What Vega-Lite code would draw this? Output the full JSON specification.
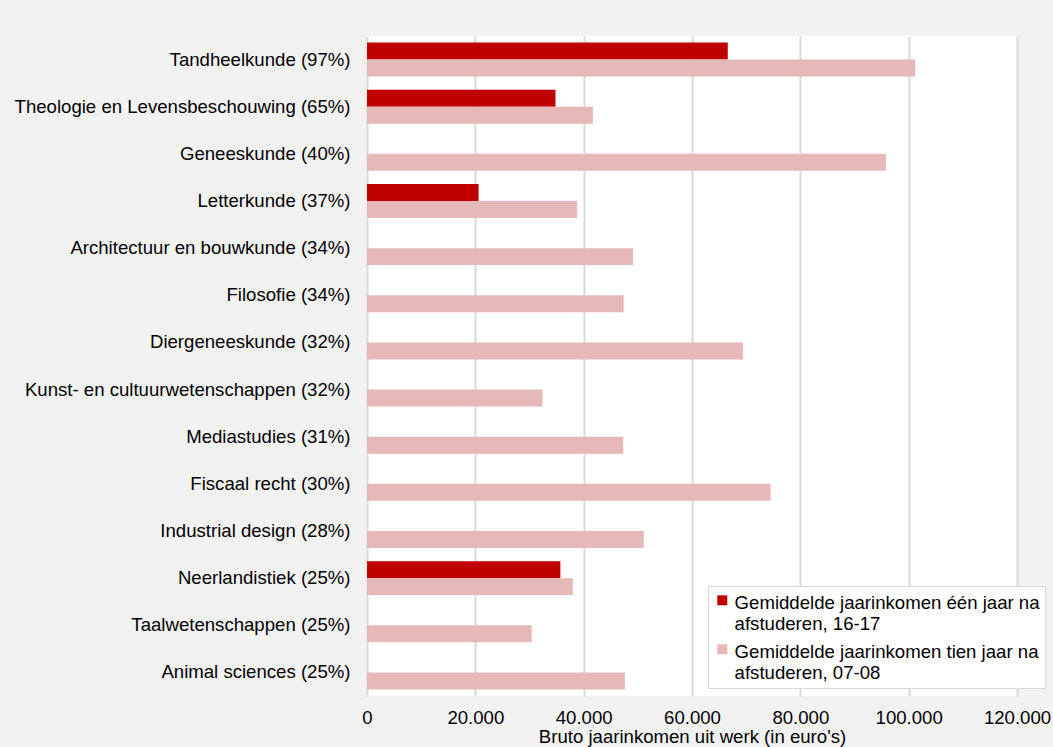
{
  "$schema": "https://vega.github.io/schema/vega-lite/v6.json",
  "autosize": "none",
  "width": 650,
  "height": 660,
  "padding": {"left": 367, "top": 36, "right": 36, "bottom": 51},
  "background": "#f2f2f2",
  "config": {
    "view": {"fill": "white", "stroke": null},
    "font": "Liberation Sans",
    "axis": {"labelFont": "Liberation Sans", "titleFont": "Liberation Sans", "labelColor": "#000000", "titleColor": "#000000"},
    "legend": {"labelFont": "Liberation Sans"}
  },
  "data": {
    "values": [
      {"vak": "Tandheelkunde (97%)", "serie": "Gemiddelde jaarinkomen één jaar na|afstuderen, 16-17", "waarde": 66600},
      {"vak": "Tandheelkunde (97%)", "serie": "Gemiddelde jaarinkomen tien jaar na|afstuderen, 07-08", "waarde": 101200},
      {"vak": "Theologie en Levensbeschouwing (65%)", "serie": "Gemiddelde jaarinkomen één jaar na|afstuderen, 16-17", "waarde": 34800},
      {"vak": "Theologie en Levensbeschouwing (65%)", "serie": "Gemiddelde jaarinkomen tien jaar na|afstuderen, 07-08", "waarde": 41700},
      {"vak": "Geneeskunde (40%)", "serie": "Gemiddelde jaarinkomen tien jaar na|afstuderen, 07-08", "waarde": 95800},
      {"vak": "Letterkunde (37%)", "serie": "Gemiddelde jaarinkomen één jaar na|afstuderen, 16-17", "waarde": 20600},
      {"vak": "Letterkunde (37%)", "serie": "Gemiddelde jaarinkomen tien jaar na|afstuderen, 07-08", "waarde": 38800},
      {"vak": "Architectuur en bouwkunde (34%)", "serie": "Gemiddelde jaarinkomen tien jaar na|afstuderen, 07-08", "waarde": 49100},
      {"vak": "Filosofie (34%)", "serie": "Gemiddelde jaarinkomen tien jaar na|afstuderen, 07-08", "waarde": 47400},
      {"vak": "Diergeneeskunde (32%)", "serie": "Gemiddelde jaarinkomen tien jaar na|afstuderen, 07-08", "waarde": 69400},
      {"vak": "Kunst- en cultuurwetenschappen (32%)", "serie": "Gemiddelde jaarinkomen tien jaar na|afstuderen, 07-08", "waarde": 32400},
      {"vak": "Mediastudies (31%)", "serie": "Gemiddelde jaarinkomen tien jaar na|afstuderen, 07-08", "waarde": 47300},
      {"vak": "Fiscaal recht (30%)", "serie": "Gemiddelde jaarinkomen tien jaar na|afstuderen, 07-08", "waarde": 74500},
      {"vak": "Industrial design (28%)", "serie": "Gemiddelde jaarinkomen tien jaar na|afstuderen, 07-08", "waarde": 51100},
      {"vak": "Neerlandistiek (25%)", "serie": "Gemiddelde jaarinkomen één jaar na|afstuderen, 16-17", "waarde": 35700},
      {"vak": "Neerlandistiek (25%)", "serie": "Gemiddelde jaarinkomen tien jaar na|afstuderen, 07-08", "waarde": 38000},
      {"vak": "Taalwetenschappen (25%)", "serie": "Gemiddelde jaarinkomen tien jaar na|afstuderen, 07-08", "waarde": 30400},
      {"vak": "Animal sciences (25%)", "serie": "Gemiddelde jaarinkomen tien jaar na|afstuderen, 07-08", "waarde": 47600}
    ]
  },
  "mark": {"type": "bar"},
  "encoding": {
    "y": {
      "field": "vak",
      "type": "nominal",
      "sort": null,
      "scale": {"paddingInner": 0.28, "paddingOuter": 0.14},
      "axis": {"title": null, "ticks": false, "domain": false, "labelFontSize": 18.6, "labelPadding": 17, "labelLimit": 400}
    },
    "yOffset": {
      "field": "serie",
      "type": "nominal",
      "sort": ["Gemiddelde jaarinkomen één jaar na|afstuderen, 16-17", "Gemiddelde jaarinkomen tien jaar na|afstuderen, 07-08"]
    },
    "x": {
      "field": "waarde",
      "type": "quantitative",
      "scale": {"domain": [0, 120000], "nice": false},
      "axis": {
        "title": "Bruto jaarinkomen uit werk (in euro's)",
        "titleFontSize": 18.6,
        "titleFontWeight": "normal",
        "titlePadding": 1,
        "labelFontSize": 18.6,
        "labelPadding": 12,
        "ticks": false,
        "domain": false,
        "values": [0, 20000, 40000, 60000, 80000, 100000, 120000],
        "labelExpr": "replace(format(datum.value, ',d'), ',', '.')",
        "gridColor": "#d9d9d9",
        "gridWidth": 2,
        "labelFlush": false
      }
    },
    "color": {
      "field": "serie",
      "type": "nominal",
      "sort": ["Gemiddelde jaarinkomen één jaar na|afstuderen, 16-17", "Gemiddelde jaarinkomen tien jaar na|afstuderen, 07-08"],
      "scale": {"range": ["#c00000", "#e6b8b7"]},
      "legend": {
        "title": null,
        "orient": "none",
        "legendX": 341,
        "legendY": 550,
        "symbolType": "square",
        "symbolSize": 100,
        "symbolStrokeWidth": 0,
        "labelFontSize": 18.6,
        "labelLimit": 400,
        "labelExpr": "split(replace(datum.label, '|', ' |'), '|')",
        "labelOffset": 3,
        "rowPadding": 6,
        "padding": 5,
        "fillColor": "white",
        "strokeColor": "#d9d9d9",
        "labelBaseline": "top",
        "encode": {"labels": {"update": {"lineHeight": {"value": 20.5}, "dy": {"value": -6}}}}
      }
    }
  }
}
